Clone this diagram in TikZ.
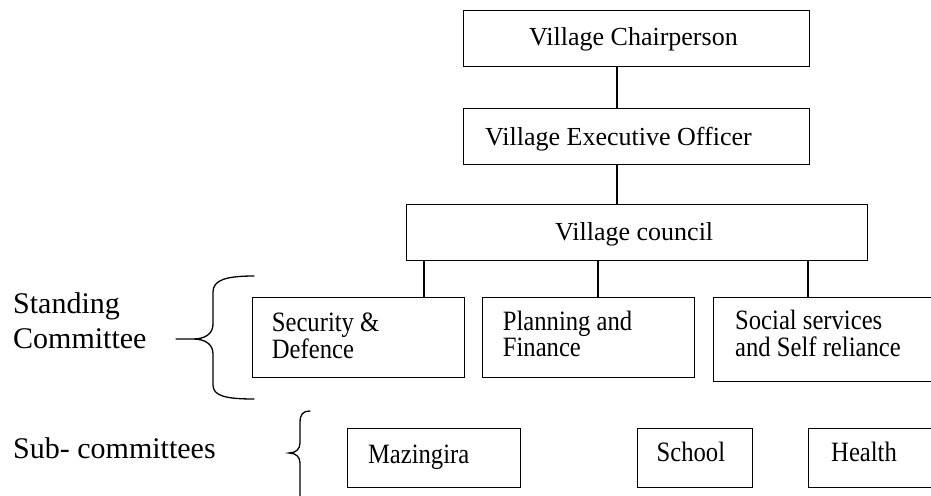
\documentclass[tikz,border=0pt]{standalone}
\usepackage{fontspec}
\setmainfont{Liberation Serif}
\newfontfamily\narrowserif[FakeStretch=0.88]{Liberation Serif}
\begin{document}
\begin{tikzpicture}[x=1pt,y=-1pt,
  box/.style={draw, line width=1.2pt, rectangle, inner sep=0pt, anchor=north west},
  link/.style={line width=1.2pt},
  brace/.style={line width=1.3pt, line cap=round},
  toptxt/.style={inner sep=0pt, anchor=base west, font=\fontsize{26}{30}\selectfont},
  subtxt/.style={inner sep=0pt, anchor=base west, font=\narrowserif\fontsize{28}{30}\selectfont},
  sidetxt/.style={inner sep=0pt, anchor=base west, font=\fontsize{30}{34}\selectfont}]
\useasboundingbox (0,0) rectangle (931,495);
\clip (0,0) rectangle (931,495);

% hierarchy boxes
\node[box, minimum width=346pt, minimum height=56pt] (chair)   at (463,10)  {};
\node[box, minimum width=346pt, minimum height=56pt] (exec)    at (463,108) {};
\node[box, minimum width=461pt, minimum height=56pt] (council) at (406,204) {};
\node[box, minimum width=212pt, minimum height=80pt] (sec)     at (252,297) {};
\node[box, minimum width=212pt, minimum height=80pt] (plan)    at (482,297) {};
\node[box, minimum width=240pt, minimum height=84pt] (soc)     at (713,297) {};
\node[box, minimum width=173pt, minimum height=59pt] (maz)     at (347,428) {};
\node[box, minimum width=115pt, minimum height=59pt] (school)  at (637,428) {};
\node[box, minimum width=140pt, minimum height=59pt] (health)  at (808,428) {};

% box texts
\node[toptxt] (chairtxt)   at (529,45.7) {Village Chairperson};
\node[toptxt] (exectxt)    at (485,145)  {Village Executive Officer};
\node[toptxt] (counciltxt) at (555,240)  {Village council};
\node[subtxt] (sectxta)  at (271.7,331.7) {Security \&};
\node[subtxt] (sectxtb)  at (271.7,358.3) {Defence};
\node[subtxt] (plantxta) at (502.7,330.7) {Planning and};
\node[subtxt] (plantxtb) at (502.7,356.7) {Finance};
\node[subtxt] (soctxta)  at (735,329.3)   {Social services};
\node[subtxt] (soctxtb)  at (735,356.7)   {and Self reliance};
\node[subtxt] (maztxt)    at (367.8,463) {Mazingira};
\node[subtxt] (schooltxt) at (656.5,461) {School};
\node[subtxt] (healthtxt) at (831,461)   {Health};

% side labels
\node[sidetxt] (standa) at (13,313) {Standing};
\node[sidetxt] (standb) at (13,348) {Committee};
\node[sidetxt] (subc)   at (13,458) {Sub- committees};

% connector columns
\coordinate (c0) at (617,0);
\coordinate (c1) at (424,0);
\coordinate (c2) at (598,0);
\coordinate (c3) at (808,0);
\draw[link] (chair.south -| c0) -- (exec.north -| c0);
\draw[link] (exec.south -| c0) -- (council.north -| c0);
\draw[link] (council.south -| c1) -- (sec.north -| c1);
\draw[link] (council.south -| c2) -- (plan.north -| c2);
\draw[link] (council.south -| c3) -- (soc.north -| c3);

% braces
\draw[brace] (254,276) .. controls (226,276) and (213,280) .. (213,292)
  -- (213,324) .. controls (213,334) and (205,339) .. (193,339) -- (176,339)
  (193,339) .. controls (205,339) and (213,344) .. (213,354)
  -- (213,385) .. controls (213,396) and (226,399) .. (254,399);
\draw[brace] (310,411) .. controls (303,411) and (300,414) .. (300,423)
  -- (300,443) .. controls (300,449) and (296,453) .. (289,453)
  .. controls (296,453) and (300,457) .. (300,463) -- (300,500);
\end{tikzpicture}
\end{document}
